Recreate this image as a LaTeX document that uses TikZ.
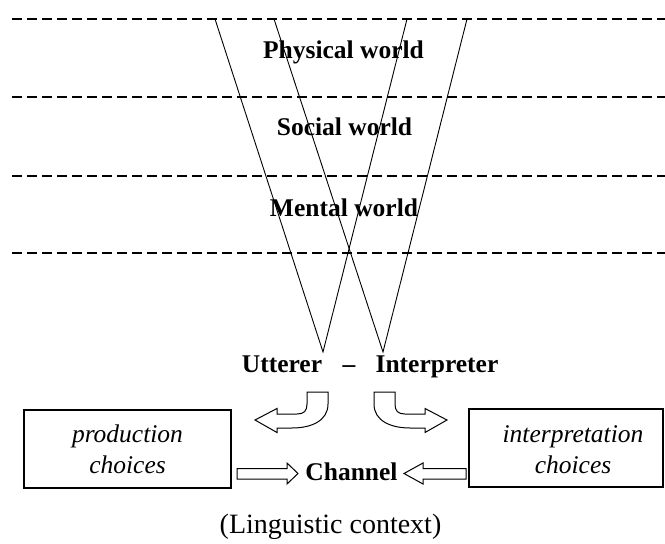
\documentclass[tikz,border=0pt]{standalone}
\usepackage{fontspec}
\setmainfont{Liberation Serif}
\begin{document}
\begin{tikzpicture}[x=1pt,y=-1pt,
  txt/.style={font=\fontsize{25.5}{31}\selectfont, anchor=base, inner sep=0pt},
  bold/.style={txt, font=\fontsize{25.5}{31}\selectfont\bfseries},
  layer/.style={line width=2pt, dash pattern=on 10pt off 5pt},
  ray/.style={line width=0.9pt},
  choicebox/.style={draw, line width=1.6pt, rectangle, inner sep=0pt},
  choicetext/.style={font=\fontsize{25.5}{31}\selectfont\itshape, align=center, inner sep=0pt},
  blockarrow/.style={draw, line width=1pt, line join=miter, fill=white}]
\useasboundingbox (0,0) rectangle (665,544);

% layer boundaries
\foreach \yy in {19,97,176,253}
  \draw[layer] (12,\yy) -- (665,\yy);

% layer labels
\node[bold] (phys) at (343.5,58) {Physical world};
\node[bold] (soc)  at (344.5,135) {Social world};
\node[bold] (ment) at (344,216) {Mental world};

% the two viewing cones
\coordinate (utip) at (323,352);
\coordinate (itip) at (383,352);
\coordinate (ua) at (215,19);
\coordinate (ub) at (407,19);
\coordinate (ia) at (274,19);
\coordinate (ib) at (467,19);
\draw[ray] (ua) -- (utip) -- (ub);
\draw[ray] (ia) -- (itip) -- (ib);

% participants
\node[bold] (utt) at (282,372) {Utterer};
\node[bold] (dash) at (349,372) {--};
\node[bold] (int) at (437,372) {Interpreter};

% choice boxes
\node[choicebox, minimum width=207pt, minimum height=78pt] (prod) at (127.5,449) {};
\node[choicetext] (prodtxt) at (127.5,449.5) {production\\choices};
\node[choicebox, minimum width=194pt, minimum height=78pt] (interp) at (566,448) {};
\node[choicetext] (interptxt) at (573,449.5) {interpretation\\choices};

% channel
\node[bold] (chan) at (351.5,480) {Channel};

% curved block arrows from the participants to the boxes
\draw[blockarrow] (307,392) -- (328,392) -- (328,404)
  .. controls (328,421) and (311,428) .. (292,428)
  -- (277,428) -- (277,432.5) -- (255,420) -- (277,408.5) -- (277,414)
  -- (297,414) .. controls (304,414) and (307,411) .. (307,404) -- cycle;
\begin{scope}[xshift=702pt, xscale=-1]
\draw[blockarrow] (307,392) -- (328,392) -- (328,404)
  .. controls (328,421) and (311,428) .. (292,428)
  -- (277,428) -- (277,432.5) -- (255,420) -- (277,408.5) -- (277,414)
  -- (297,414) .. controls (304,414) and (307,411) .. (307,404) -- cycle;
\end{scope}

% straight block arrows into the channel
\draw[blockarrow] (237,468.5) -- (287,468.5) -- (287,463) -- (298,473.5)
  -- (287,484) -- (287,479) -- (237,479) -- cycle;
\draw[blockarrow] (466,468.5) -- (423,468.5) -- (423,463) -- (404,473.5)
  -- (423,484) -- (423,479) -- (466,479) -- cycle;

% context label
\node[txt, font=\fontsize{28}{33}\selectfont] (ctx) at (330.5,533) {(Linguistic context)};
\end{tikzpicture}
\end{document}
